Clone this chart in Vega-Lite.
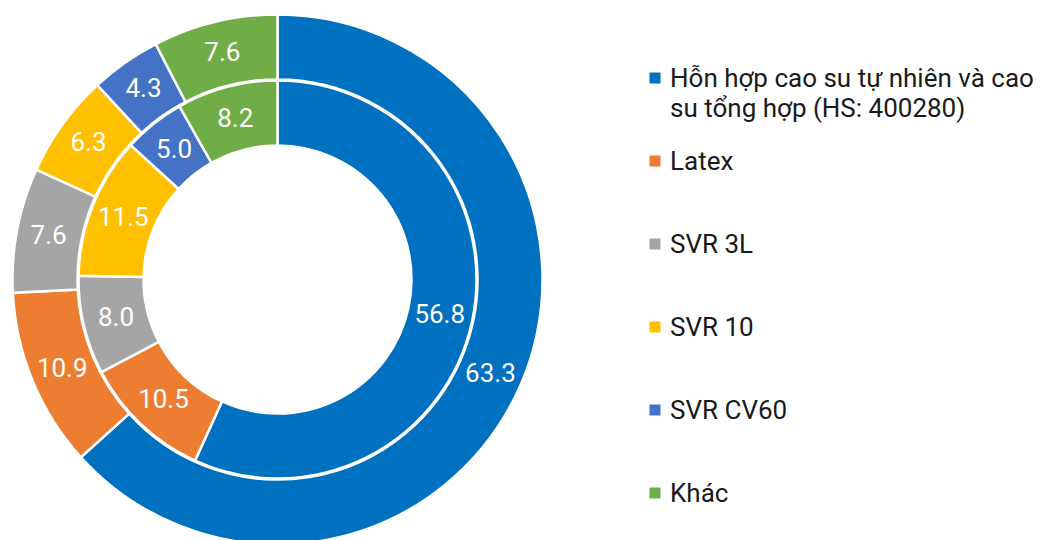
{
  "$schema": "https://vega.github.io/schema/vega-lite/v6.json",
  "padding": 0,
  "spacing": 0,
  "bounds": "flush",
  "background": "white",
  "config": {"view": {"stroke": null}, "font": "Roboto"},
  "datasets": {
    "shares": [
      {"ring": "outer", "k": 1, "cat": "Hỗn hợp cao su tự nhiên và cao\nsu tổng hợp (HS: 400280)", "value": 63.3},
      {"ring": "outer", "k": 2, "cat": "Latex", "value": 10.9},
      {"ring": "outer", "k": 3, "cat": "SVR 3L", "value": 7.6},
      {"ring": "outer", "k": 4, "cat": "SVR 10", "value": 6.3},
      {"ring": "outer", "k": 5, "cat": "SVR CV60", "value": 4.3},
      {"ring": "outer", "k": 6, "cat": "Khác", "value": 7.6},
      {"ring": "inner", "k": 1, "cat": "Hỗn hợp cao su tự nhiên và cao\nsu tổng hợp (HS: 400280)", "value": 56.8},
      {"ring": "inner", "k": 2, "cat": "Latex", "value": 10.5},
      {"ring": "inner", "k": 3, "cat": "SVR 3L", "value": 8.0},
      {"ring": "inner", "k": 4, "cat": "SVR 10", "value": 11.5},
      {"ring": "inner", "k": 5, "cat": "SVR CV60", "value": 5.0},
      {"ring": "inner", "k": 6, "cat": "Khác", "value": 8.2}
    ]
  },
  "hconcat": [
    {
      "width": 555,
      "height": 559,
      "data": {"name": "shares"},
      "encoding": {
        "theta": {"field": "value", "type": "quantitative", "stack": true},
        "order": {"field": "k", "type": "quantitative"},
        "color": {
          "field": "cat", "type": "nominal", "legend": null,
          "scale": {
            "domain": ["Hỗn hợp cao su tự nhiên và cao\nsu tổng hợp (HS: 400280)", "Latex", "SVR 3L", "SVR 10", "SVR CV60", "Khác"],
            "range": ["#0070C0", "#ED7D31", "#A5A5A5", "#FFC000", "#4472C4", "#70AD47"]
          }
        }
      },
      "layer": [
        {
          "transform": [{"filter": "datum.ring == 'outer'"}],
          "mark": {"type": "arc", "outerRadius": 265, "innerRadius": 200, "stroke": "white", "strokeWidth": 2.5}
        },
        {
          "transform": [{"filter": "datum.ring == 'outer'"}],
          "mark": {"type": "text", "radius": 233, "fill": "white", "fontSize": 26, "align": "center", "baseline": "middle"},
          "encoding": {"text": {"field": "value", "type": "quantitative", "format": ".1f"}, "color": {"value": "white"}}
        },
        {
          "transform": [{"filter": "datum.ring == 'inner'"}],
          "mark": {"type": "arc", "outerRadius": 199, "innerRadius": 134, "stroke": "white", "strokeWidth": 2.5}
        },
        {
          "transform": [{"filter": "datum.ring == 'inner'"}],
          "mark": {"type": "text", "radius": 166, "fill": "white", "fontSize": 26, "align": "center", "baseline": "middle"},
          "encoding": {"text": {"field": "value", "type": "quantitative", "format": ".1f"}, "color": {"value": "white"}}
        }
      ]
    },
    {
      "width": 200,
      "height": 571,
      "data": {"name": "shares"},
      "transform": [{"filter": "datum.ring == 'outer'"}],
      "encoding": {
        "y": {"field": "k", "type": "ordinal", "axis": null, "scale": {"type": "point", "padding": 0.94}}
      },
      "layer": [
        {
          "mark": {"type": "square", "size": 121, "opacity": 1, "filled": true},
          "encoding": {
            "color": {"field": "cat", "type": "nominal", "legend": null}
          }
        },
        {
          "mark": {"type": "text", "align": "left", "baseline": "alphabetic", "dx": 15, "dy": 9, "fontSize": 26, "lineBreak": "\n", "lineHeight": 30, "color": "#1a1a1a"},
          "encoding": {"text": {"field": "cat", "type": "nominal"}}
        }
      ]
    }
  ]
}
